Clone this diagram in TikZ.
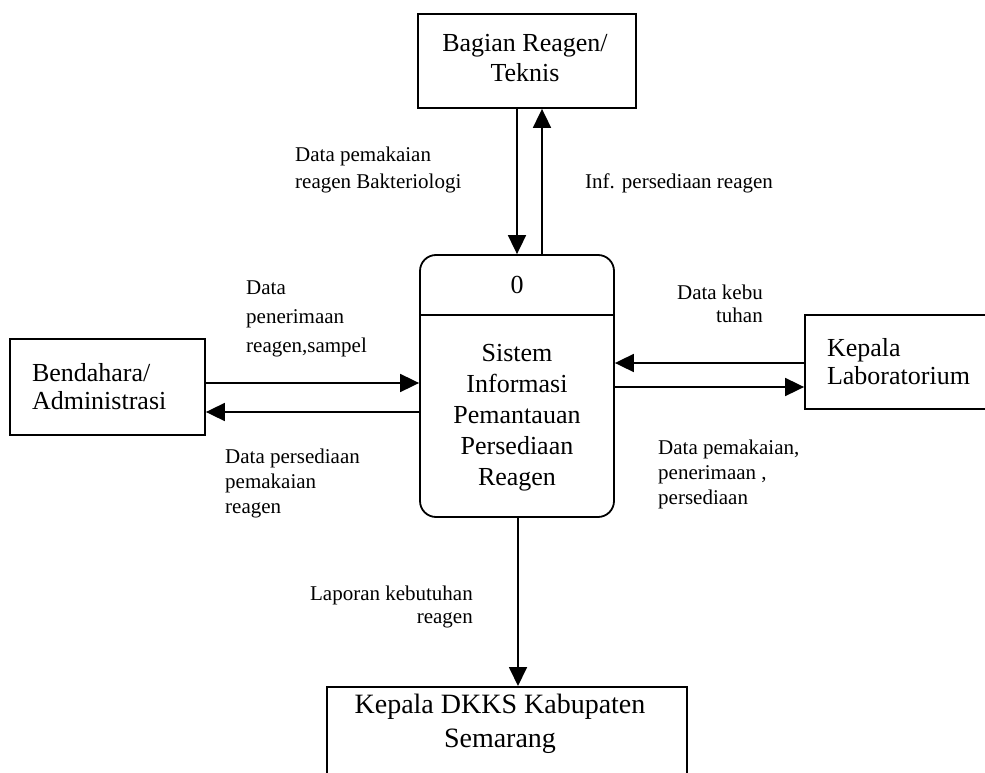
\documentclass[tikz,border=0pt]{standalone}
\usepackage{fontspec}
\setmainfont{Liberation Serif}
\usetikzlibrary{arrows.meta,calc}
\begin{document}
\begin{tikzpicture}[x=1pt,y=-1pt,
  box/.style={draw,line width=1.8pt,inner sep=0pt},
  boxfont/.style={font=\fontsize{26}{29}\selectfont},
  lbl/.style={inner sep=0pt},
  flow/.style={line width=1.8pt,-{Triangle[length=19pt,width=18pt]}}]
\useasboundingbox (0,0) rectangle (985,773);
% coordinates for connector alignment
\coordinate (xa) at (517,0);
\coordinate (xb) at (542,0);
\coordinate (xc) at (518,0);
\coordinate (ya) at (0,383);
\coordinate (yb) at (0,412);
\coordinate (yc) at (0,363);
\coordinate (yd) at (0,387);
\coordinate (dv) at (0,315);
% entities
\node[box,minimum width=218,minimum height=94] (tek) at (527,61) {};
\node[align=center,font=\fontsize{26}{30}\selectfont] (tekt) at (525,58) {Bagian Reagen/\\Teknis};
\node[box,minimum width=195,minimum height=96,text width=151,align=left,font=\fontsize{26}{28}\selectfont] (bend) at (107.5,387) {Bendahara/\\Administrasi};
\node[box,minimum width=195,minimum height=94,text width=151,align=left,font=\fontsize{26}{28}\selectfont] (lab) at (902.5,362) {Kepala\\Laboratorium};
\node[box,minimum width=360,minimum height=120,anchor=north] (dkks) at (507,686) {};
\node[align=center,font=\fontsize{28}{34}\selectfont] (dkkst) at (500,724) {Kepala DKKS Kabupaten\\Semarang};
% process
\node[box,rounded corners=16,minimum width=194,minimum height=262] (p) at (517,386) {};
\draw[line width=1.8pt] (p.west |- dv) -- (p.east |- dv);
\node[boxfont] (p0) at (517,285) {0};
\node[align=center,font=\fontsize{26}{31}\selectfont] (pt) at (517,418) {Sistem\\Informasi\\Pemantauan\\Persediaan\\Reagen};
% flows
\draw[flow] (tek.south -| xa) -- (p.north -| xa);
\draw[flow] (p.north -| xb) -- (tek.south -| xb);
\draw[flow] (bend.east |- ya) -- (p.west |- ya);
\draw[flow] (p.west |- yb) -- (bend.east |- yb);
\draw[flow] (lab.west |- yc) -- (p.east |- yc);
\draw[flow] (p.east |- yd) -- (lab.west |- yd);
\draw[flow] (p.south -| xc) -- (dkks.north -| xc);
% labels
\node[lbl,anchor=west,align=left,font=\fontsize{21}{27}\selectfont] (l1) at (295,169.5) {Data pemakaian\\reagen Bakteriologi};
\node[lbl,anchor=west,align=left,font=\fontsize{21}{26}\selectfont] (l2) at (585,183) {Inf. persediaan reagen};
\node[lbl,anchor=west,align=left,font=\fontsize{21}{29}\selectfont] (l3) at (246,319) {Data\\penerimaan\\reagen,sampel};
\node[lbl,anchor=west,align=left,font=\fontsize{21}{25}\selectfont] (l4) at (225,483) {Data persediaan\\pemakaian\\reagen};
\node[lbl,anchor=east,align=right,font=\fontsize{21}{23}\selectfont] (l5) at (763,303.5) {Data kebu\\tuhan};
\node[lbl,anchor=west,align=left,font=\fontsize{21}{25}\selectfont] (l6) at (658,474) {Data pemakaian,\\penerimaan ,\\persediaan};
\node[lbl,anchor=east,align=right,font=\fontsize{21}{23}\selectfont] (l7) at (473,606.5) {Laporan kebutuhan\\reagen};
\end{tikzpicture}
\end{document}
